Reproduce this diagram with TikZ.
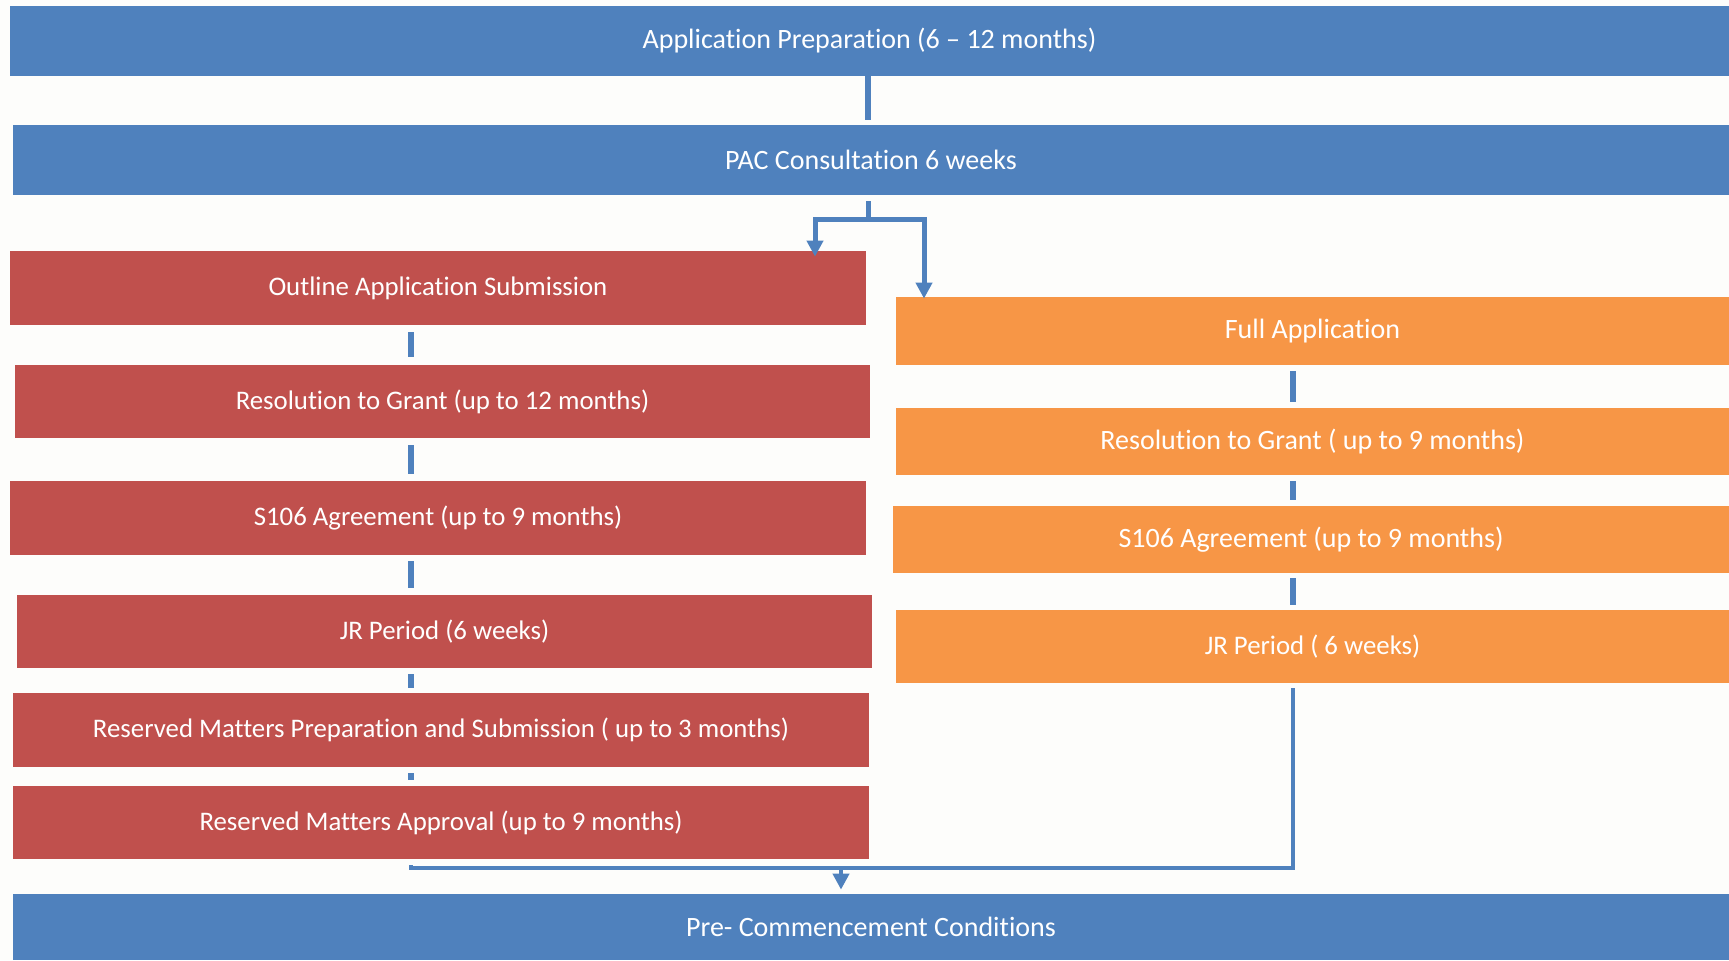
\documentclass[tikz,border=0pt]{standalone}
\usepackage{fontspec}
\setmainfont{Carlito}[Ligatures={NoCommon}]
\usetikzlibrary{arrows.meta}
\definecolor{bblue}{HTML}{4F81BD}
\definecolor{rred}{HTML}{C0504D}
\definecolor{oorange}{HTML}{F79646}
\definecolor{bgc}{RGB}{253,253,251}
\begin{document}
\begin{tikzpicture}[x=0.5pt,y=-0.5pt,
  wh/.style 2 args={minimum width=#1*0.5pt, minimum height=#2*0.5pt},
  box/.style={draw=none, inner sep=0pt, text=white, font=\fontsize{14}{17}\selectfont, anchor=center},
  smalltext/.style={font=\fontsize{13.4}{16}\selectfont},
  bluebox/.style={box, fill=bblue},
  redbox/.style={box, fill=rred, smalltext},
  orangebox/.style={box, fill=oorange},
  conn/.style={draw=bblue, line width=3pt},
  splitline/.style={draw=bblue, line width=2.5pt, line join=miter},
  arr/.style={splitline, -{Triangle[width=8pt,length=8pt]}},
  merge/.style={draw=bblue, line width=2.2pt, line join=miter},
  arrb/.style={merge, -{Triangle[width=8pt,length=8pt]}}
]
\fill[bgc] (0,0) rectangle (1729,960);

\node[bluebox, wh={1719}{70}] (app) at (869.5,41) {Application Preparation (6 -- 12 months)};
\node[bluebox, wh={1716}{70}] (pac) at (871,160) {PAC Consultation 6 weeks};

\node[redbox, wh={856}{74}] (r1) at (438,288) {Outline Application Submission};
\node[redbox, wh={855}{73}] (r2) at (442.5,401.5) {Resolution to Grant (up to 12 months)};
\node[redbox, wh={856}{74}] (r3) at (438,518) {S106 Agreement (up to 9 months)};
\node[redbox, wh={855}{73}] (r4) at (444.5,631.5) {JR Period (6 weeks)};
\node[redbox, wh={856}{74}] (r5) at (441,730) {Reserved Matters Preparation and Submission ( up to 3 months)};
\node[redbox, wh={856}{73}] (r6) at (441,822.5) {Reserved Matters Approval (up to 9 months)};

\node[orangebox, wh={833}{68}] (o1) at (1312.5,331) {Full Application};
\node[orangebox, wh={833}{67}] (o2) at (1312.5,441.5) {Resolution to Grant ( up to 9 months)};
\node[orangebox, wh={836}{67}] (o3) at (1311,539.5) {S106 Agreement (up to 9 months)};
\node[orangebox, smalltext, wh={833}{73}] (o4) at (1312.5,646.5) {JR Period ( 6 weeks)};

\node[bluebox, wh={1716}{66}] (pcc) at (871,927) {Pre- Commencement Conditions};

\coordinate (lx) at (411,0);
\coordinate (rx) at (1293,0);
\coordinate (tx) at (868,0);

% top connector
\draw[conn, shorten >=2.5pt] (app.south -| tx) -- (pac.north -| tx);

% split
\coordinate (jc) at (868,219);
\coordinate (jl) at (815,219);
\coordinate (jr) at (924,219);
\draw[splitline, shorten <=3pt] (pac.south -| jc) -- (jc);
\draw[arr, shorten >=-3pt] (jr) -- (jl) -- (r1.north -| jl);
\draw[arr, shorten >=-1pt] (jc) -- (jr) -- (o1.north -| jr);

% left column
\draw[conn, shorten <=3.5pt, shorten >=4pt] (r1.south -| lx) -- (r2.north -| lx);
\draw[conn, shorten <=3.5pt, shorten >=3.5pt] (r2.south -| lx) -- (r3.north -| lx);
\draw[conn, shorten <=3pt, shorten >=3.5pt] (r3.south -| lx) -- (r4.north -| lx);
\draw[conn, shorten <=3pt, shorten >=2.5pt] (r4.south -| lx) -- (r5.north -| lx);
\draw[conn, shorten <=3pt, shorten >=3pt] (r5.south -| lx) -- (r6.north -| lx);

% right column
\draw[conn, shorten <=3pt, shorten >=3pt] (o1.south -| rx) -- (o2.north -| rx);
\draw[conn, shorten <=3pt, shorten >=3pt] (o2.south -| rx) -- (o3.north -| rx);
\draw[conn, shorten <=2.5pt, shorten >=2.5pt] (o3.south -| rx) -- (o4.north -| rx);

% merge
\coordinate (ml) at (411,868);
\coordinate (mr) at (1293,868);
\coordinate (mc) at (841,868);
\draw[merge, shorten <=3pt, shorten >=2.5pt] (r6.south -| ml) -- (ml) -- (mr) -- (o4.south -| mr);
\draw[arrb, shorten >=2pt] (mc) -- (pcc.north -| mc);
\end{tikzpicture}
\end{document}
